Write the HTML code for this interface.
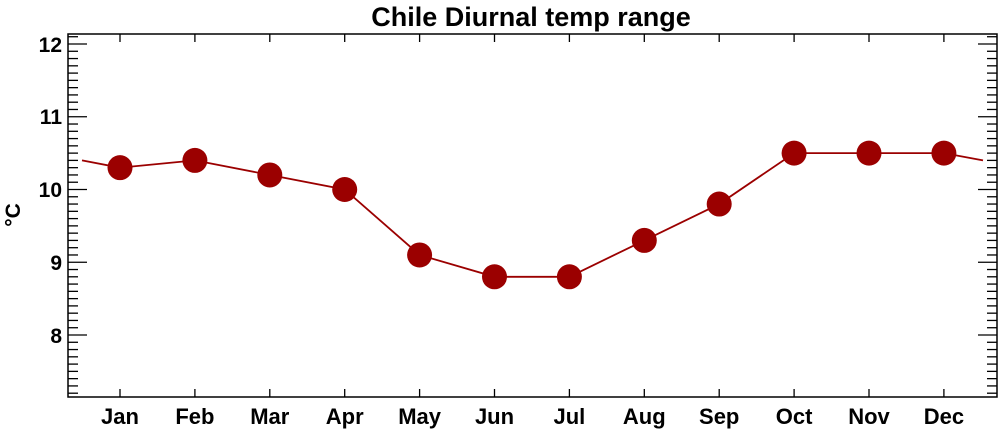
<!DOCTYPE html>
<html><head><meta charset="utf-8"><style>
html,body{margin:0;padding:0;background:#fff;}
svg{display:block;font-family:"Liberation Sans",Arial,sans-serif;font-weight:bold;}
</style></head><body>
<svg width="1000" height="432" viewBox="0 0 1000 432" xmlns="http://www.w3.org/2000/svg">
<text x="531" y="26" text-anchor="middle" font-size="27">Chile Diurnal temp range</text>
<g id="ticks" stroke="#000" stroke-width="1.3"></g>
<rect x="68" y="34" width="929" height="363" fill="none" stroke="#000" stroke-width="1.5"/>
<g font-size="21" text-anchor="end">
<text x="62" y="52">12</text>
<text x="62" y="124">11</text>
<text x="62" y="197">10</text>
<text x="62" y="270">9</text>
<text x="62" y="343">8</text>
</g>
<text transform="translate(20,215) rotate(-90)" text-anchor="middle" font-size="21">°C</text>
<g font-size="22" text-anchor="middle" id="months"></g>
<polyline id="line" fill="none" stroke="#9b0000" stroke-width="1.8"/>
<g id="dots" fill="#9b0000"></g>
<script>
var ns="http://www.w3.org/2000/svg";
function y(v){return 44+(12-v)*72.75;}
function X(i){return 120+i*74.9;}
var t=document.getElementById("ticks");
function ln(a,b,c,d){var l=document.createElementNS(ns,"line");l.setAttribute("x1",a);l.setAttribute("y1",b);l.setAttribute("x2",c);l.setAttribute("y2",d);t.appendChild(l);}
for(var k=72;k<=121;k++){var v=k/10,yy=y(v),L=(k%10==0)?19:10;ln(68,yy,68+L,yy);ln(997,yy,997-L,yy);}
var m=["Jan","Feb","Mar","Apr","May","Jun","Jul","Aug","Sep","Oct","Nov","Dec"];
var vals=[10.3,10.4,10.2,10.0,9.1,8.8,8.8,9.3,9.8,10.5,10.5,10.5];
var mg=document.getElementById("months");
var pts=["82,"+y(10.4)];
var dg=document.getElementById("dots");
for(var i=0;i<12;i++){var x=X(i);ln(x,34,x,42);ln(x,397,x,389);
var tx=document.createElementNS(ns,"text");tx.setAttribute("x",x);tx.setAttribute("y",424);tx.textContent=m[i];mg.appendChild(tx);
pts.push(x+","+y(vals[i]));
var c=document.createElementNS(ns,"circle");c.setAttribute("cx",x);c.setAttribute("cy",y(vals[i]));c.setAttribute("r",12.5);dg.appendChild(c);}
pts.push("983,"+y(10.4));
document.getElementById("line").setAttribute("points",pts.join(" "));
</script>
</svg>
</body></html>
